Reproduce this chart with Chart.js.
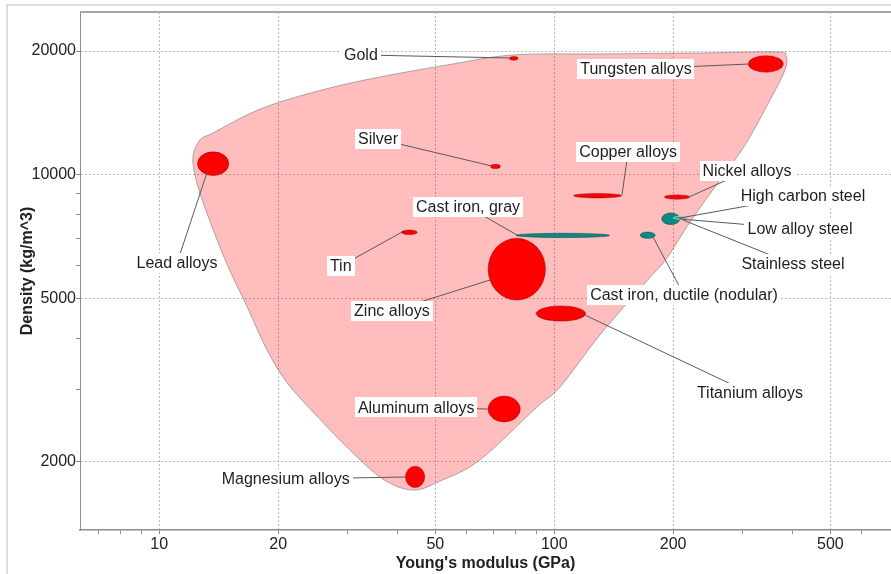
<!DOCTYPE html>
<html>
<head>
<meta charset="utf-8">
<script src="https://cdn.jsdelivr.net/npm/chart.js@4.4.1/dist/chart.umd.min.js"></script>
<style>
  html, body { margin: 0; padding: 0; background: #ffffff; }
  #wrap { width: 891px; height: 574px; position: relative; }
  canvas { display: block; }
</style>
</head>
<body>
<div id="wrap"><canvas id="ashby" width="891" height="574"></canvas></div>
<script>
// Material families: Young's modulus (GPa) and density (kg/m^3) ranges
const materials = ['Gold', 'Silver', 'Tungsten alloys', 'Lead alloys', 'Copper alloys', 'Nickel alloys',
  'Tin', 'Zinc alloys', 'Titanium alloys', 'Aluminum alloys', 'Magnesium alloys',
  'Cast iron, gray', 'Cast iron, ductile (nodular)', 'Stainless steel', 'Low alloy steel', 'High carbon steel'];
const modulusLow  = [77, 69, 310, 12.5, 112, 190, 41, 68, 90, 68, 42, 80, 165, 187, 201, 200];
const modulusHigh = [81, 73, 380, 15, 148, 220, 45, 95, 120, 82, 47, 138, 180, 208, 217, 215];
const densityLow  = [19000, 10350, 17760, 9950, 8780, 8720, 7150, 4950, 4400, 2500, 1730, 7030, 7000, 7560, 7800, 7800];
const densityHigh = [19400, 10600, 19490, 11370, 9000, 8930, 7330, 7000, 4790, 2890, 1950, 7200, 7250, 8070, 7900, 7900];
const family = ['nonferrous', 'nonferrous', 'nonferrous', 'nonferrous', 'nonferrous', 'nonferrous',
  'nonferrous', 'nonferrous', 'nonferrous', 'nonferrous', 'nonferrous',
  'ferrous', 'ferrous', 'ferrous', 'ferrous', 'ferrous'];

// Envelope around all metals (modulus, density)
const envelopeModulus = [78.6, 130.5, 233.8, 364.1, 386.0, 383.8, 351.7, 304.0, 262.7, 220.6, 192.9, 169.7,
  130.5, 103.4, 90.4, 64.8, 51.4, 43.9, 36.8, 30.4, 25.3, 21.1, 18.7, 16.7, 14.8, 13.2, 12.4, 12.17,
  12.68, 13.67, 16.67, 20.2, 27.0, 36.2, 53.5];
const envelopeDensity = [19570, 19680, 19790, 19900, 19460, 17990, 15200, 11810, 9707, 7670, 6267, 5447,
  4072, 3040, 2717, 2019, 1795, 1706, 1815, 2135, 2560, 3110, 3760, 4763, 6093, 8067, 9707, 11040,
  12150, 12630, 13980, 15030, 16260, 17300, 18500];

// Axis ticks
const modulusTicks = [10, 20, 50, 100, 200, 500];
const modulusMinorTicks = [7, 8, 9, 30, 40, 60, 70, 80, 90, 300, 400, 600];
const densityTicks = [2000, 5000, 10000, 20000];
const densityMinorTicks = [3000, 4000, 6000, 7000, 8000, 9000];

// Label placement (label centre and leader end, in axis units)
const labelModulus  = [32.4, 35.8, 161, 11.09, 153.8, 307.5, 28.8, 38.8, 312.9, 44.7, 20.9, 60.5, 213, 402.1, 418.8, 426.2];
const labelDensity  = [19570, 12220, 18090, 6093, 11360, 10210, 5992, 4657, 2939, 2717, 1815, 8344, 5093, 6060, 7375, 8873];
const leaderModulus = [77.2, 69.5, 311.1, 13.2, 148.4, 219.3, 41.2, 68.7, 119.6, 68.3, 42.1, 80.5, 177.8, 211.7, 208, 208];
const leaderDensity = [19240, 10500, 18600, 10100, 8925, 8826, 7252, 5540, 4552, 2687, 1836, 7131, 7053, 7756, 7800, 7844];

const FONT = '"Liberation Sans", Arial, Helvetica, sans-serif';
const familyFill = { nonferrous: '#ff0000', ferrous: '#0b8a84' };
const familyEdge = { nonferrous: 'rgba(120,0,0,0.55)', ferrous: 'rgba(0,60,60,0.6)' };

const geo = (a, b) => Math.sqrt(a * b);

// Frame around the panel and the top edge of the plot
const framePlugin = {
  id: 'frame',
  beforeDraw(chart) {
    const ctx = chart.ctx;
    ctx.save();
    ctx.fillStyle = '#ffffff';
    ctx.fillRect(0, 0, chart.width, chart.height);
    ctx.strokeStyle = '#d2d2d2';
    ctx.lineWidth = 1.5;
    ctx.beginPath();
    ctx.moveTo(7, chart.height + 2);
    ctx.lineTo(7, 5);
    ctx.lineTo(chart.width + 2, 5);
    ctx.stroke();
    ctx.restore();
  },
  afterDraw(chart) {
    const ctx = chart.ctx, a = chart.chartArea;
    ctx.save();
    ctx.strokeStyle = '#a6a6a6';
    ctx.lineWidth = 2;
    ctx.beginPath();
    ctx.moveTo(a.left, a.top);
    ctx.lineTo(a.right + 2, a.top);
    ctx.stroke();
    ctx.restore();
  }
};

// Envelope, property ellipses, leaders and labels
const ashbyPlugin = {
  id: 'ashby',
  beforeDatasetsDraw(chart) {
    const ctx = chart.ctx;
    const xs = chart.scales.x, ys = chart.scales.y;
    const px = v => xs.getPixelForValue(v);
    const py = v => ys.getPixelForValue(v);

    // envelope as a closed smooth curve
    const pts = envelopeModulus.map((m, i) => [px(m), py(envelopeDensity[i])]);
    const n = pts.length;
    ctx.save();
    ctx.beginPath();
    ctx.moveTo(pts[0][0], pts[0][1]);
    for (let i = 0; i < n; i++) {
      const p0 = pts[(i - 1 + n) % n], p1 = pts[i], p2 = pts[(i + 1) % n], p3 = pts[(i + 2) % n];
      const c1x = p1[0] + (p2[0] - p0[0]) / 6, c1y = p1[1] + (p2[1] - p0[1]) / 6;
      const c2x = p2[0] - (p3[0] - p1[0]) / 6, c2y = p2[1] - (p3[1] - p1[1]) / 6;
      ctx.bezierCurveTo(c1x, c1y, c2x, c2y, p2[0], p2[1]);
    }
    ctx.closePath();
    ctx.fillStyle = 'rgba(255,0,0,0.26)';
    ctx.fill();
    ctx.strokeStyle = 'rgba(110,110,110,0.55)';
    ctx.lineWidth = 1;
    ctx.stroke();
    ctx.restore();

    // property ellipses
    materials.forEach((name, i) => {
      const x1 = px(modulusLow[i]), x2 = px(modulusHigh[i]);
      const y1 = py(densityLow[i]), y2 = py(densityHigh[i]);
      const cx = (x1 + x2) / 2, cy = (y1 + y2) / 2;
      const rx = Math.abs(x2 - x1) / 2, ry = Math.abs(y1 - y2) / 2;
      ctx.save();
      ctx.beginPath();
      ctx.ellipse(cx, cy, rx, ry, 0, 0, Math.PI * 2);
      ctx.fillStyle = familyFill[family[i]];
      ctx.fill();
      ctx.lineWidth = 0.8;
      ctx.strokeStyle = (i >= 14) ? 'rgba(190,215,215,0.9)' : familyEdge[family[i]];
      ctx.stroke();
      ctx.restore();
    });

    // leader lines
    ctx.save();
    ctx.strokeStyle = '#5a5a5a';
    ctx.lineWidth = 1;
    materials.forEach((name, i) => {
      ctx.beginPath();
      ctx.moveTo(px(labelModulus[i]), py(labelDensity[i]));
      ctx.lineTo(px(leaderModulus[i]), py(leaderDensity[i]));
      ctx.stroke();
    });
    ctx.restore();

    // labels on white boxes
    ctx.save();
    ctx.font = '16px ' + FONT;
    ctx.textAlign = 'center';
    ctx.textBaseline = 'middle';
    materials.forEach((name, i) => {
      const cx = px(labelModulus[i]), cy = py(labelDensity[i]);
      const w = ctx.measureText(name).width + 6;
      const h = 20;
      ctx.fillStyle = '#ffffff';
      ctx.fillRect(Math.round(cx - w / 2), Math.round(cy - h / 2), Math.round(w), h);
      ctx.fillStyle = '#1e1e1e';
      ctx.fillText(name, cx, cy + 1);
    });
    ctx.restore();
  }
};

const centres = materials.map((m, i) => ({
  x: geo(modulusLow[i], modulusHigh[i]),
  y: geo(densityLow[i], densityHigh[i])
}));

const tickFont = { family: FONT, size: 16 };

new Chart(document.getElementById('ashby'), {
  type: 'scatter',
  data: {
    datasets: [{
      label: 'Metals',
      data: centres,
      pointRadius: 0,
      pointHoverRadius: 0,
      backgroundColor: '#ff0000'
    }]
  },
  options: {
    responsive: false,
    devicePixelRatio: 1,
    animation: false,
    events: [],
    layout: { padding: { top: 12, left: 0, right: 0, bottom: 0 } },
    plugins: {
      legend: { display: false },
      tooltip: { enabled: false }
    },
    scales: {
      x: {
        type: 'logarithmic',
        min: 6.3,
        max: 712,
        bounds: 'data',
        afterBuildTicks(s) {
          s.ticks = modulusTicks.concat(modulusMinorTicks).sort((a, b) => a - b).map(v => ({ value: v }));
        },
        afterFit(s) { s.height = 44; },
        ticks: {
          autoSkip: false,
          maxRotation: 0,
          padding: 1,
          color: '#222222',
          font: tickFont,
          callback: v => modulusTicks.includes(v) ? String(v) : ''
        },
        grid: {
          color: c => (c.tick && modulusTicks.includes(c.tick.value)) ? '#b8b8b8' : 'rgba(0,0,0,0)',
          tickColor: '#8a8a8a',
          tickLength: 4,
          lineWidth: 1
        },
        border: { color: '#8c8c8c', width: 1.5, dash: [2, 2] },
        title: {
          display: true,
          text: "Young's modulus (GPa)",
          color: '#222222',
          font: { family: FONT, size: 16, weight: 'bold' },
          padding: { top: 0, bottom: 1 }
        }
      },
      y: {
        type: 'logarithmic',
        min: 1364,
        max: 24900,
        bounds: 'data',
        afterBuildTicks(s) {
          s.ticks = densityTicks.concat(densityMinorTicks).sort((a, b) => a - b).map(v => ({ value: v }));
        },
        afterFit(s) { s.width = 80; },
        ticks: {
          autoSkip: false,
          padding: 0,
          color: '#222222',
          font: tickFont,
          callback: v => densityTicks.includes(v) ? String(v) : ''
        },
        grid: {
          color: c => (c.tick && densityTicks.includes(c.tick.value)) ? '#b8b8b8' : 'rgba(0,0,0,0)',
          tickColor: '#8a8a8a',
          tickLength: 4,
          lineWidth: 1
        },
        border: { color: '#8c8c8c', width: 1, dash: [2, 2] },
        title: {
          display: true,
          text: 'Density (kg/m^3)',
          color: '#222222',
          font: { family: FONT, size: 16, weight: 'bold' },
          padding: { top: 18, bottom: 0 }
        }
      }
    }
  },
  plugins: [framePlugin, ashbyPlugin]
});
</script>
</body>
</html>
